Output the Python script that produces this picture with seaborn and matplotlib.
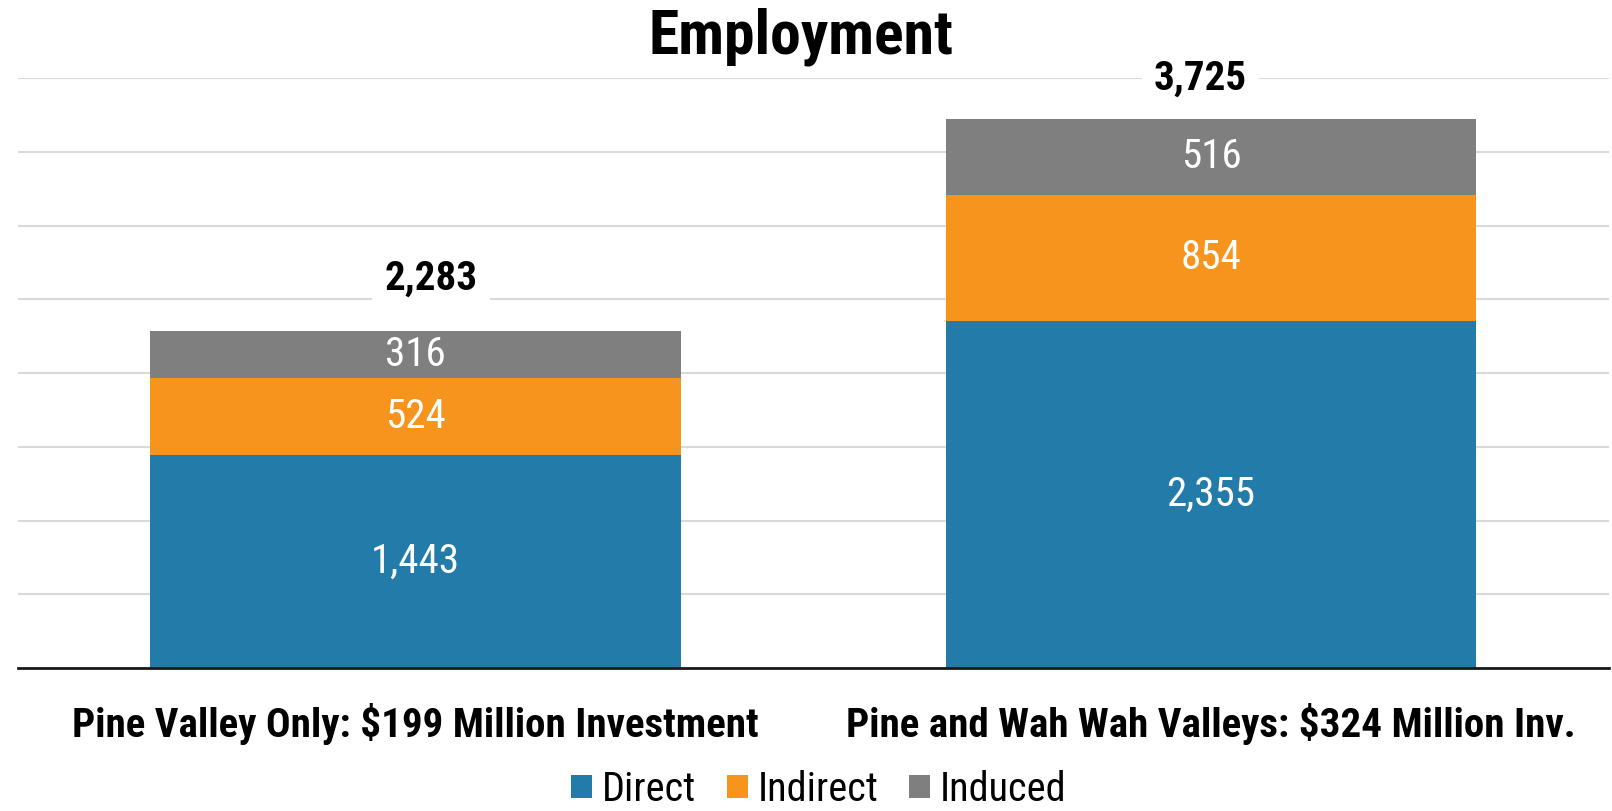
import matplotlib
matplotlib.use("Agg")
import matplotlib.pyplot as plt
from matplotlib.patches import Patch
from matplotlib import font_manager
import numpy as np
import pandas as pd
import seaborn as sns

# Employment impacts by scenario
categories = ["Pine Valley Only: $199 Million Investment",
              "Pine and Wah Wah Valleys: $324 Million Inv."]
direct = [1443, 2355]
indirect = [524, 854]
induced = [316, 516]
series_names = ["Direct", "Indirect", "Induced"]
colors = ["#237BAA", "#F7941E", "#7F7F7F"]
title = "Employment"

# offsets (points) of the total labels above each bar
total_offsets = [(11, 37.5), (-7.5, 29)]

sns.set_theme(style="white")
installed = {f.name for f in font_manager.fontManager.ttflist}
base_font = next((f for f in ["Roboto Condensed", "PT Sans Narrow", "Liberation Sans"]
                  if f in installed), "DejaVu Sans")
plt.rcParams["font.family"] = [base_font, "DejaVu Sans"]
plt.rcParams["text.color"] = "black"
plt.rcParams["xtick.color"] = "black"

df = pd.DataFrame({"category": categories, "Direct": direct,
                   "Indirect": indirect, "Induced": induced})
df["lvl1"] = df["Direct"]
df["lvl2"] = df["Direct"] + df["Indirect"]
df["lvl3"] = df["lvl2"] + df["Induced"]

fig = plt.figure(figsize=(16.12, 8.11), dpi=100)
ax = fig.add_axes([0.011, 0.1763, 0.987, 0.7275])

# stacked bars drawn as overlaid cumulative totals
for col, c in zip(["lvl3", "lvl2", "lvl1"], colors[::-1]):
    sns.barplot(data=df, x="category", y=col, color=c, width=0.667,
                saturation=1, ax=ax, zorder=2, edgecolor="none")

ax.set_ylim(0, 4000)
ax.set_xlim(-0.5, 1.5)
ax.set_yticks(np.arange(0, 4001, 500))
ax.yaxis.grid(True, color="#D9D9D9", linewidth=1.5, zorder=0)
ax.set_axisbelow(True)
ax.set_yticklabels([])
ax.tick_params(axis="y", length=0)
ax.tick_params(axis="x", length=0, pad=49.5)
ax.set_xlabel("")
ax.set_ylabel("")
for s in ["left", "right", "top"]:
    ax.spines[s].set_visible(False)
ax.spines["bottom"].set_color("#1a1a1a")
ax.spines["bottom"].set_linewidth(2)
ax.set_xticks(range(len(categories)))
ax.set_xticklabels(categories, fontsize=29.5, fontweight="bold", color="black")
for lbl in ax.get_xticklabels():
    lbl.set_va("baseline")

# segment value labels and bold totals
for i in range(len(categories)):
    bottom = 0
    for name in series_names:
        v = df.loc[i, name]
        ax.text(i, bottom + v / 2, f"{v:,}", ha="center", va="center",
                color="white", fontsize=29.5, zorder=4)
        bottom += v
    ax.annotate(f"{bottom:,}", xy=(i, bottom), xytext=total_offsets[i],
                textcoords="offset points", ha="center", va="center",
                fontsize=29.5, fontweight="bold", color="black", zorder=5,
                bbox=dict(boxstyle="square,pad=0.3", fc="white", ec="none"))

fig.text(0.497, 1 - 53 / 811, title, ha="center", va="baseline",
         fontsize=44.5, fontweight="bold", color="black")

handles = [Patch(facecolor=c, edgecolor="none") for c in colors]
fig.legend(handles, series_names, loc="center", bbox_to_anchor=(0.508, 0.027),
           ncol=3, frameon=False, fontsize=29, handlelength=0.52,
           handleheight=0.52, handletextpad=0.25, columnspacing=0.75,
           borderpad=0, borderaxespad=0)

fig.savefig("out.png", dpi=100, facecolor="white")
